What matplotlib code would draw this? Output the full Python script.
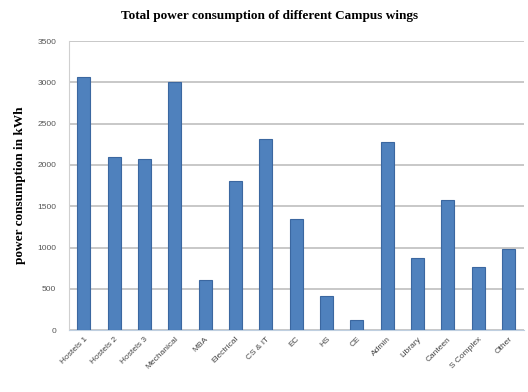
import matplotlib
matplotlib.use("Agg")
import matplotlib.pyplot as plt
import numpy as np

wings = ["Hostels 1", "Hostels 2", "Hostels 3", "Mechanical", "MBA", "Electrical",
         "CS & IT", "EC", "HS", "CE", "Admin", "Library", "Canteen", "S Complex", "Other"]
consumption_kwh = [3060, 2100, 2075, 3010, 610, 1810, 2320, 1340, 410, 120,
                   2280, 870, 1570, 770, 980]
y_ticks = [0, 500, 1000, 1500, 2000, 2500, 3000, 3500]

fig = plt.figure(figsize=(5.28, 3.92), dpi=100)
ax = fig.add_axes([0.130, 0.158, 0.862, 0.737])

x = np.arange(len(wings))
ax.bar(x, consumption_kwh, width=0.43, color="#4F81BD", edgecolor="#3B67A0",
       linewidth=0.8, zorder=3)

ax.set_xlim(-0.5, len(wings) - 0.5)
ax.set_ylim(0, 3500)
ax.set_yticks(y_ticks)
ax.set_yticklabels([str(t) for t in y_ticks], fontsize=6, color="#555555",
                   family="Liberation Sans")
ax.yaxis.grid(True, color="#BFBFBF", linewidth=1.2, zorder=0)
ax.tick_params(axis="y", length=0, pad=9)
ax.tick_params(axis="x", length=0, pad=4)

ax.set_xticks(x)
ax.set_xticklabels(wings, rotation=45, ha="right", rotation_mode="anchor",
                   fontsize=6, color="#444444", family="Liberation Sans")

for side in ["top", "right"]:
    ax.spines[side].set_visible(False)
ax.spines["left"].set_color("#D0D0D0")
ax.spines["bottom"].set_color("#BFCFE0")

ax.set_ylabel("power consumption in kWh", fontsize=9.5, fontweight="bold",
              family="Liberation Serif", labelpad=8)
fig.text(0.51, 0.958, "Total power consumption of different Campus wings",
         ha="center", va="center", fontsize=9.5, fontweight="bold",
         family="Liberation Serif")

fig.savefig("out.png", dpi=100)
